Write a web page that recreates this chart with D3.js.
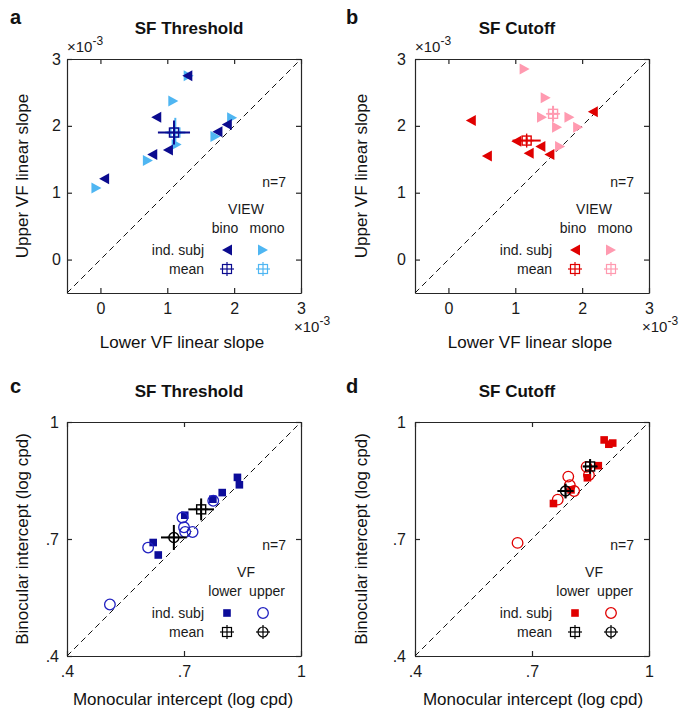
<!DOCTYPE html>
<html>
<head>
<meta charset="utf-8">
<script src="https://cdn.jsdelivr.net/npm/d3@7"></script>
<style>
  body { margin: 0; background: #fff; }
  svg { display: block; font-family: "Liberation Sans", Arial, Helvetica, sans-serif; }
</style>
</head>
<body>
<svg id="chart" width="681" height="713"></svg>
<script>
// Panel a - SF threshold slopes (x10^-3)
const aBinoLower = [1.30, 0.835, 1.75, 1.89, 1.01, 0.775, 0.055];
const aBinoUpper = [2.75, 2.13, 1.91, 2.02, 1.64, 1.57, 1.21];
const aMonoLower = [1.32, 1.09, 1.97, 1.72, 1.14, 0.71, -0.06];
const aMonoUpper = [2.75, 2.37, 2.12, 1.84, 1.72, 1.48, 1.07];
const aBinoMean = [1.10, 1.90], aBinoErr = [0.24, 0.18];
const aMonoMean = [1.12, 1.90], aMonoErr = [0.15, 0.22];

// Panel b - SF cutoff slopes (x10^-3)
const bBinoLower = [0.335, 0.575, 1.015, 1.20, 1.375, 1.51, 2.16];
const bBinoUpper = [2.08, 1.55, 1.77, 1.59, 1.69, 1.57, 2.21];
const bMonoLower = [1.14, 1.455, 1.40, 1.81, 1.625, 1.94, 1.67];
const bMonoUpper = [2.85, 2.42, 2.13, 2.13, 1.98, 1.98, 1.69];
const bBinoMean = [1.17, 1.78], bBinoErr = [0.21, 0.05];
const bMonoMean = [1.565, 2.18], bMonoErr = [0.08, 0.12];

// Panel c - SF threshold intercepts (log cpd)
const cLowerMono = [0.837, 0.842, 0.798, 0.774, 0.702, 0.621, 0.634];
const cLowerBino = [0.858, 0.839, 0.819, 0.802, 0.761, 0.691, 0.659];
const cUpperMono = [0.775, 0.696, 0.700, 0.703, 0.722, 0.608, 0.510];
const cUpperBino = [0.798, 0.755, 0.730, 0.718, 0.718, 0.678, 0.532];
const cLowerMean = [0.744, 0.776], cLowerErr = [0.033, 0.028];
const cUpperMean = [0.674, 0.704], cUpperErr = [0.033, 0.032];

// Panel d - SF cutoff intercepts (log cpd)
const dLowerMono = [0.885, 0.897, 0.907, 0.870, 0.842, 0.800, 0.755];
const dLowerBino = [0.954, 0.943, 0.946, 0.888, 0.857, 0.826, 0.791];
const dUpperMono = [0.840, 0.846, 0.793, 0.797, 0.808, 0.766, 0.663];
const dUpperBino = [0.885, 0.864, 0.860, 0.838, 0.823, 0.801, 0.690];
const dLowerMean = [0.849, 0.886], dLowerErr = [0.019, 0.019];
const dUpperMean = [0.786, 0.823], dUpperErr = [0.021, 0.019];

const slopeDomain = [-0.5, 3];
const slopeTicks = [0, 1, 2, 3];
const slopeTickLabels = ['0', '1', '2', '3'];
const interceptDomain = [0.4, 1];
const interceptTicks = [0.4, 0.7, 1];
const interceptTickLabels = ['.4', '.7', '1'];

const svg = d3.select('#chart');
const SIZE = 234;
const axisColor = '#262626';

function trianglePath(dir) {
    // dir -1 points left, +1 points right
    return `M${5 * dir},0 L${-5 * dir},-5.5 L${-5 * dir},5.5 Z`;
}

function drawMarker(g, cx, cy, marker, color) {
    if (marker === 'triL' || marker === 'triR') {
        g.append('path').attr('d', trianglePath(marker === 'triL' ? -1 : 1))
            .attr('transform', `translate(${cx},${cy})`).attr('fill', color);
    } else if (marker === 'square') {
        g.append('rect').attr('x', cx - 3.8).attr('y', cy - 3.8)
            .attr('width', 7.6).attr('height', 7.6).attr('fill', color);
    } else {
        g.append('circle').attr('cx', cx).attr('cy', cy).attr('r', 5.3)
            .attr('fill', 'none').attr('stroke', color).attr('stroke-width', 1.3);
    }
}

function drawMean(g, cx, cy, shape, color, width) {
    const m = g.append('g').attr('transform', `translate(${cx},${cy})`)
        .attr('stroke', color).attr('stroke-width', width || 1.3).attr('fill', 'none');
    if (shape === 'square') {
        m.append('rect').attr('x', -4.5).attr('y', -4.5).attr('width', 9).attr('height', 9);
    } else {
        m.append('circle').attr('r', 5);
    }
    m.append('line').attr('x1', -7).attr('x2', 7);
    m.append('line').attr('y1', -7).attr('y2', 7);
}

function addExponent(tx, ty) {
    const t = svg.append('text').attr('x', tx).attr('y', ty)
        .style('font-size', '15px').attr('fill', '#1a1a1a');
    t.append('tspan').text('\u00d710');
    t.append('tspan').attr('dy', -7).style('font-size', '12px').text('-3');
}

function drawPanel(p) {
    const x = d3.scaleLinear().domain(p.domain).range([p.left, p.left + SIZE]);
    const y = d3.scaleLinear().domain(p.domain).range([p.top + SIZE, p.top]);
    const g = svg.append('g');
    const fmt = d => p.tickLabels[p.ticks.indexOf(d)];

    // frame + ticks (inward, all four sides)
    const bottom = g.append('g').attr('transform', `translate(0,${p.top + SIZE})`)
        .call(d3.axisBottom(x).tickValues(p.ticks).tickFormat(fmt).tickSize(-5).tickSizeOuter(0).tickPadding(10));
    const left = g.append('g').attr('transform', `translate(${p.left},0)`)
        .call(d3.axisLeft(y).tickValues(p.ticks).tickFormat(fmt).tickSize(-5).tickSizeOuter(0).tickPadding(p.yPad));
    const top = g.append('g').attr('transform', `translate(0,${p.top})`)
        .call(d3.axisTop(x).tickValues(p.ticks).tickFormat('').tickSize(-5).tickSizeOuter(0));
    const right = g.append('g').attr('transform', `translate(${p.left + SIZE},0)`)
        .call(d3.axisRight(y).tickValues(p.ticks).tickFormat('').tickSize(-5).tickSizeOuter(0));
    [bottom, left, top, right].forEach(a => {
        a.selectAll('path, line').attr('stroke', axisColor).attr('stroke-width', 1.2);
        a.selectAll('text').attr('fill', '#1a1a1a').style('font-size', '16px').style('font-family', 'inherit');
    });

    // unity line
    g.append('line')
        .attr('x1', x(p.domain[0])).attr('y1', y(p.domain[0]))
        .attr('x2', x(p.domain[1])).attr('y2', y(p.domain[1]))
        .attr('stroke', '#111').attr('stroke-width', 1).attr('stroke-dasharray', '6,4');

    // individual subjects (drawing order as in the figure)
    p.groups.forEach(s => {
        s.xs.forEach((v, i) => drawMarker(g, x(v), y(s.ys[i]), s.marker, s.color));
    });

    // means with error bars
    p.means.forEach(m => {
        const cx = x(m.mean[0]), cy = y(m.mean[1]);
        g.append('line').attr('x1', x(m.mean[0] - m.err[0])).attr('x2', x(m.mean[0] + m.err[0]))
            .attr('y1', cy).attr('y2', cy).attr('stroke', m.color).attr('stroke-width', 2);
        g.append('line').attr('y1', y(m.mean[1] - m.err[1])).attr('y2', y(m.mean[1] + m.err[1]))
            .attr('x1', cx).attr('x2', cx).attr('stroke', m.color).attr('stroke-width', 2);
        drawMean(g, cx, cy, m.shape, m.color, 1.4);
    });

    // legend
    const L = p.left, T = p.top;
    const txt = (tx, ty, s, anchor) => g.append('text').attr('x', tx).attr('y', ty)
        .attr('text-anchor', anchor || 'middle').attr('fill', '#1a1a1a').style('font-size', '14px').text(s);
    txt(L + 219, T + 128, 'n=7', 'end');
    txt(L + 179, T + 155, p.legTitle);
    txt(L + 158, T + 174, p.legCols[0]);
    txt(L + 200, T + 174, p.legCols[1]);
    txt(L + 137, T + 196, 'ind. subj', 'end');
    txt(L + 137, T + 215, 'mean', 'end');
    p.legend.forEach((s, i) => {
        const lx = L + (i === 0 ? 160 : 196);
        drawMarker(g, lx, T + 191, s.marker, s.color);
        drawMean(g, lx, T + 210, s.shape, s.meanColor, 1.2);
    });

    // titles and labels
    svg.append('text').attr('x', p.letterX).attr('y', p.letterY).attr('font-weight', 'bold')
        .style('font-size', '20px').attr('fill', '#111').text(p.letter);
    svg.append('text').attr('x', p.titleX).attr('y', p.top - 25).attr('text-anchor', 'middle')
        .attr('font-weight', 'bold').style('font-size', '17px').attr('fill', '#111').text(p.title);
    svg.append('text').attr('x', p.xLabelX).attr('y', p.top + SIZE + p.xLabelDy).attr('text-anchor', 'middle')
        .style('font-size', '17px').attr('fill', '#111').text(p.xLabel);
    svg.append('text').attr('transform', `translate(${p.yLabelX},${p.top + SIZE / 2}) rotate(-90)`)
        .attr('text-anchor', 'middle').style('font-size', '17px').attr('fill', '#111').text(p.yLabel);

    if (p.exponent) {
        addExponent(p.left, p.top - 7);
        addExponent(p.left + SIZE - 7, p.top + SIZE + 39);
    }
}

const navy = '#0b0b8f', lightBlue = '#4fb6f2', red = '#e00000', pink = '#ff9ab0';
const sqBlue = '#0c0c9a', circBlue = '#2020c0';

drawPanel({
    letter: 'a', letterX: 10, letterY: 24, title: 'SF Threshold', titleX: 189,
    left: 67, top: 59, domain: slopeDomain, ticks: slopeTicks, tickLabels: slopeTickLabels, yPad: 6,
    xLabel: 'Lower VF linear slope', xLabelX: 182, xLabelDy: 55,
    yLabel: 'Upper VF linear slope', yLabelX: 28,
    exponent: true, legTitle: 'VIEW', legCols: ['bino', 'mono'],
    groups: [
        { xs: aMonoLower, ys: aMonoUpper, marker: 'triR', color: lightBlue },
        { xs: aBinoLower, ys: aBinoUpper, marker: 'triL', color: navy }
    ],
    means: [
        { mean: aMonoMean, err: aMonoErr, shape: 'square', color: lightBlue },
        { mean: aBinoMean, err: aBinoErr, shape: 'square', color: navy }
    ],
    legend: [
        { marker: 'triL', color: navy, shape: 'square', meanColor: navy },
        { marker: 'triR', color: lightBlue, shape: 'square', meanColor: lightBlue }
    ]
});

drawPanel({
    letter: 'b', letterX: 346, letterY: 24, title: 'SF Cutoff', titleX: 517,
    left: 415, top: 59, domain: slopeDomain, ticks: slopeTicks, tickLabels: slopeTickLabels, yPad: 9,
    xLabel: 'Lower VF linear slope', xLabelX: 530, xLabelDy: 55,
    yLabel: 'Upper VF linear slope', yLabelX: 367,
    exponent: true, legTitle: 'VIEW', legCols: ['bino', 'mono'],
    groups: [
        { xs: bMonoLower, ys: bMonoUpper, marker: 'triR', color: pink },
        { xs: bBinoLower, ys: bBinoUpper, marker: 'triL', color: red }
    ],
    means: [
        { mean: bMonoMean, err: bMonoErr, shape: 'square', color: pink },
        { mean: bBinoMean, err: bBinoErr, shape: 'square', color: red }
    ],
    legend: [
        { marker: 'triL', color: red, shape: 'square', meanColor: red },
        { marker: 'triR', color: pink, shape: 'square', meanColor: pink }
    ]
});

drawPanel({
    letter: 'c', letterX: 10, letterY: 393, title: 'SF Threshold', titleX: 189,
    left: 67, top: 422, domain: interceptDomain, ticks: interceptTicks, tickLabels: interceptTickLabels, yPad: 8,
    xLabel: 'Monocular intercept (log cpd)', xLabelX: 183, xLabelDy: 49,
    yLabel: 'Binocular intercept (log cpd)', yLabelX: 28,
    exponent: false, legTitle: 'VF', legCols: ['lower', 'upper'],
    groups: [
        { xs: cLowerMono, ys: cLowerBino, marker: 'square', color: sqBlue },
        { xs: cUpperMono, ys: cUpperBino, marker: 'circle', color: circBlue }
    ],
    means: [
        { mean: cLowerMean, err: cLowerErr, shape: 'square', color: '#000' },
        { mean: cUpperMean, err: cUpperErr, shape: 'circle', color: '#000' }
    ],
    legend: [
        { marker: 'square', color: sqBlue, shape: 'square', meanColor: '#000' },
        { marker: 'circle', color: circBlue, shape: 'circle', meanColor: '#000' }
    ]
});

drawPanel({
    letter: 'd', letterX: 346, letterY: 393, title: 'SF Cutoff', titleX: 517,
    left: 415, top: 422, domain: interceptDomain, ticks: interceptTicks, tickLabels: interceptTickLabels, yPad: 9,
    xLabel: 'Monocular intercept (log cpd)', xLabelX: 533, xLabelDy: 49,
    yLabel: 'Binocular intercept (log cpd)', yLabelX: 367,
    exponent: false, legTitle: 'VF', legCols: ['lower', 'upper'],
    groups: [
        { xs: dLowerMono, ys: dLowerBino, marker: 'square', color: red },
        { xs: dUpperMono, ys: dUpperBino, marker: 'circle', color: red }
    ],
    means: [
        { mean: dLowerMean, err: dLowerErr, shape: 'square', color: '#000' },
        { mean: dUpperMean, err: dUpperErr, shape: 'circle', color: '#000' }
    ],
    legend: [
        { marker: 'square', color: red, shape: 'square', meanColor: '#000' },
        { marker: 'circle', color: red, shape: 'circle', meanColor: '#000' }
    ]
});
</script>
</body>
</html>
